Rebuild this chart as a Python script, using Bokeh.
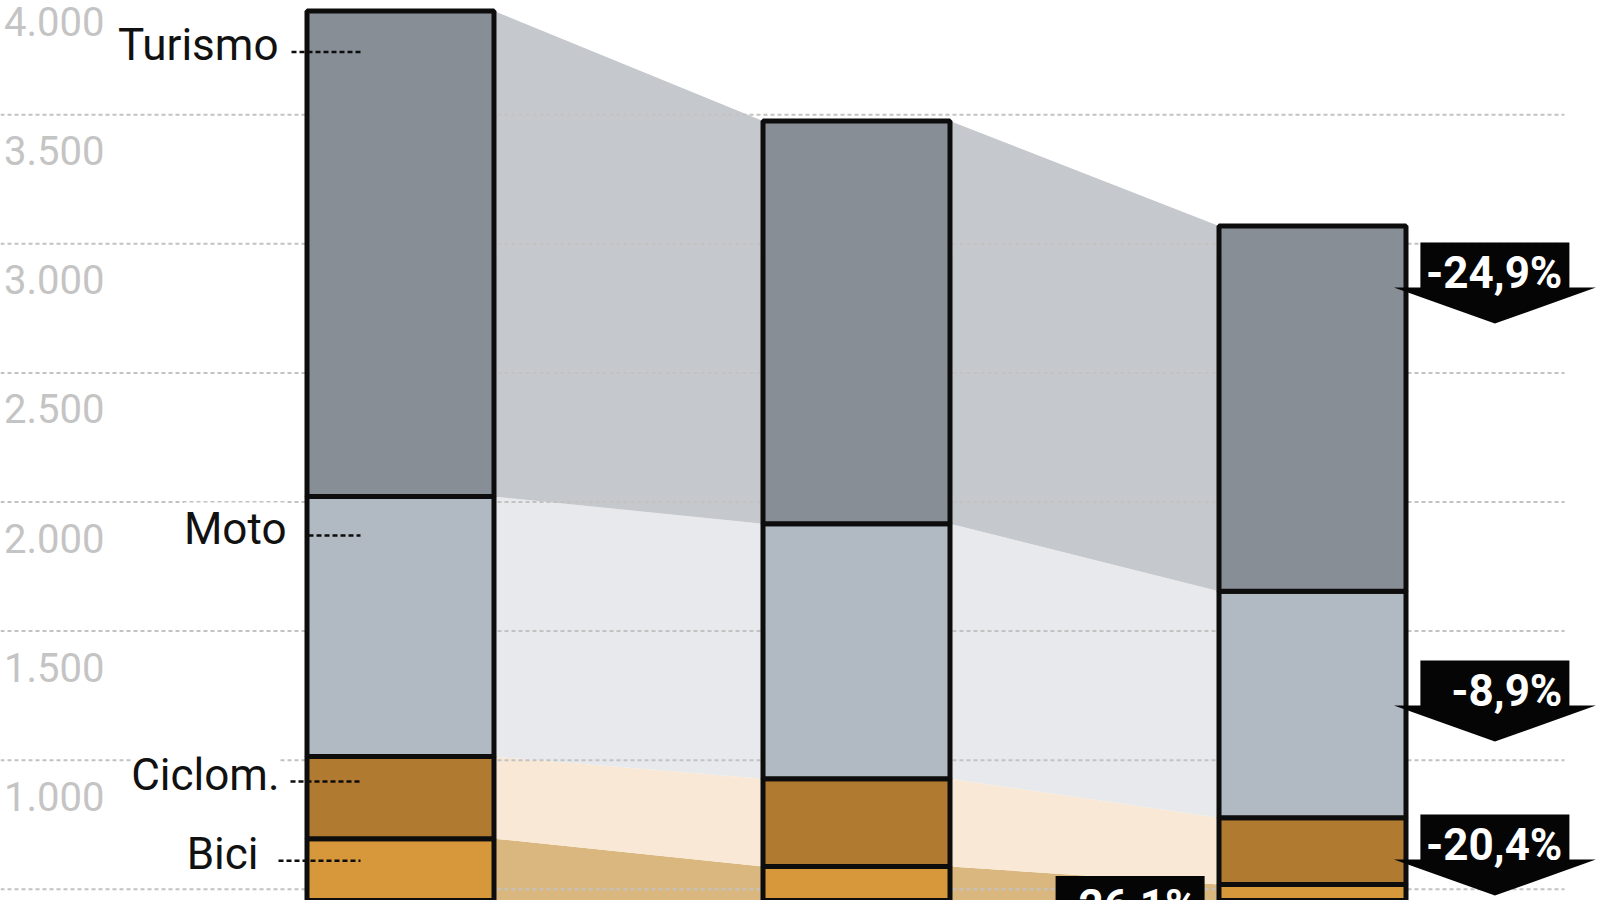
from bokeh.plotting import figure
from bokeh.models import Range1d
from bokeh.core.properties import value
from bokeh.embed import file_html
from bokeh.resources import INLINE

# ---------------- data ----------------
bar_index = [0, 1, 2]
categories = ["Turismo", "Moto", "Ciclom.", "Bici"]
turismo = [1881, 1560, 1415]
moto = [1007, 988, 877]
ciclom = [318, 340, 259]
bici = [696, 588, 518]
changes = ["-24,9%", "-8,9%", "-20,4%", "-26,1%"]
grid_values = [500, 1000, 1500, 2000, 2500, 3000, 3500, 4000]
tick_values = [1000, 1500, 2000, 2500, 3000, 3500, 4000]
tick_labels = ["1.000", "1.500", "2.000", "2.500", "3.000", "3.500", "4.000"]

# ---------------- styles ----------------
W, H = 1600, 900
PXX = 456.0                 # px per bar step
X0 = -400.0 / PXX
X1 = X0 + W / PXX
Y1 = 3942.7
Y0 = 456.5
PXY = H / (Y1 - Y0)         # px per value unit
BAR_W = 187.0 / PXX

bar_colors = {"Turismo": "#878e96", "Moto": "#b1bac3", "Ciclom.": "#b07a30", "Bici": "#d6983b"}
ribbon_colors = {"Turismo": "#c5c9cd", "Moto": "#e7e9ec", "Ciclom.": "#f8e8d5", "Bici": "#d9b77e"}
EDGE = "#0d0d0d"
GRID = "#c2c2c2"
TICK_TEXT = "#c4c4c4"
FONT = value("Roboto")

LABEL_RIGHT_PX = [278, 286, 279, 258]
LEADER_START_PX = [291, 308, 290, 278]
LEADER_END_PX = 360
LEADER_DROP_PX = [41, 39, 25, 22]
ARROW_X = [2.4, 2.4, 2.4, 1.6]
ARROW_TOP_PX = [242, 660, 814, 875.5]


def sx(X):
    return X0 + X / PXX


def sy(Y):
    return Y1 - Y / PXY


p = figure(width=W, height=H, x_range=Range1d(X0, X1), y_range=Range1d(Y0, Y1),
           output_backend="svg", toolbar_location=None, min_border=0)
p.xaxis.visible = False
p.yaxis.visible = False
p.xgrid.visible = False
p.ygrid.visible = False
p.outline_line_color = None
p.background_fill_color = "white"

# stacked boundaries (bottom -> top order: Bici, Ciclom., Moto, Turismo)
series = {"Turismo": turismo, "Moto": moto, "Ciclom.": ciclom, "Bici": bici}
stack_order = ["Bici", "Ciclom.", "Moto", "Turismo"]
bottoms, tops = {}, {}
base = [0, 0, 0]
for c in stack_order:
    bottoms[c] = list(base)
    tops[c] = [b + v for b, v in zip(base, series[c])]
    base = tops[c]

# ribbons
xs, ys, cols = [], [], []
for c in stack_order:
    for i in range(len(bar_index) - 1):
        xa = bar_index[i] + BAR_W / 2
        xb = bar_index[i + 1] - BAR_W / 2
        xs.append([xa, xa, xb, xb])
        ys.append([bottoms[c][i], tops[c][i], tops[c][i + 1], bottoms[c][i + 1]])
        cols.append(ribbon_colors[c])
p.patches(xs, ys, fill_color=cols, line_color=None)

# gridlines
p.segment(x0=[X0] * len(grid_values), y0=grid_values,
          x1=[sx(1564)] * len(grid_values), y1=grid_values,
          line_color=GRID, line_width=2, line_dash="4 3")

# bars
for c in stack_order:
    p.vbar(x=bar_index, width=BAR_W, bottom=bottoms[c], top=tops[c],
           fill_color=bar_colors[c], line_color=EDGE, line_width=5)

# tick labels (below their gridlines)
p.text(x=[sx(104)] * len(tick_values), y=tick_values, text=tick_labels,
       text_font=FONT, text_font_size="40px", text_color=TICK_TEXT,
       text_align="right", text_baseline="middle", y_offset=36)

# category labels with leader lines
for k, c in enumerate(categories):
    top_left = tops[c][0]
    ly = top_left - LEADER_DROP_PX[k] / PXY
    p.segment(x0=[sx(LEADER_START_PX[k])], y0=[ly], x1=[sx(LEADER_END_PX)], y1=[ly],
              line_color=EDGE, line_width=2.5, line_dash="5 3")
    p.text(x=[sx(LABEL_RIGHT_PX[k])], y=[ly], text=[c], text_font=FONT,
           text_font_size="44px", text_color="#111111", text_align="right",
           text_baseline="middle", y_offset=-7, background_fill_color="white")

# change arrows (shapes first, then their texts)
axs, ays, tx, ty = [], [], [], []
for k, c in enumerate(categories):
    cx = ARROW_X[k]
    top = sy(ARROW_TOP_PX[k])
    bot = top - 45 / PXY
    tip = bot - 36 / PXY
    hb = 74.5 / PXX
    ht = 101 / PXX
    axs.append([cx - hb, cx + hb, cx + hb, cx + ht, cx, cx - ht, cx - hb])
    ays.append([top, top, bot, bot, tip, bot, bot])
    tx.append(cx + hb - 7 / PXX)
    ty.append(top)
p.patches(axs, ays, fill_color="#050505", line_color=None)
p.text(x=tx, y=ty, text=changes, text_font=FONT,
       text_font_size="44px", text_font_style="bold", text_color="white",
       text_align="right", text_baseline="middle", y_offset=30)

open("out.html", "w").write(file_html(p, INLINE))
